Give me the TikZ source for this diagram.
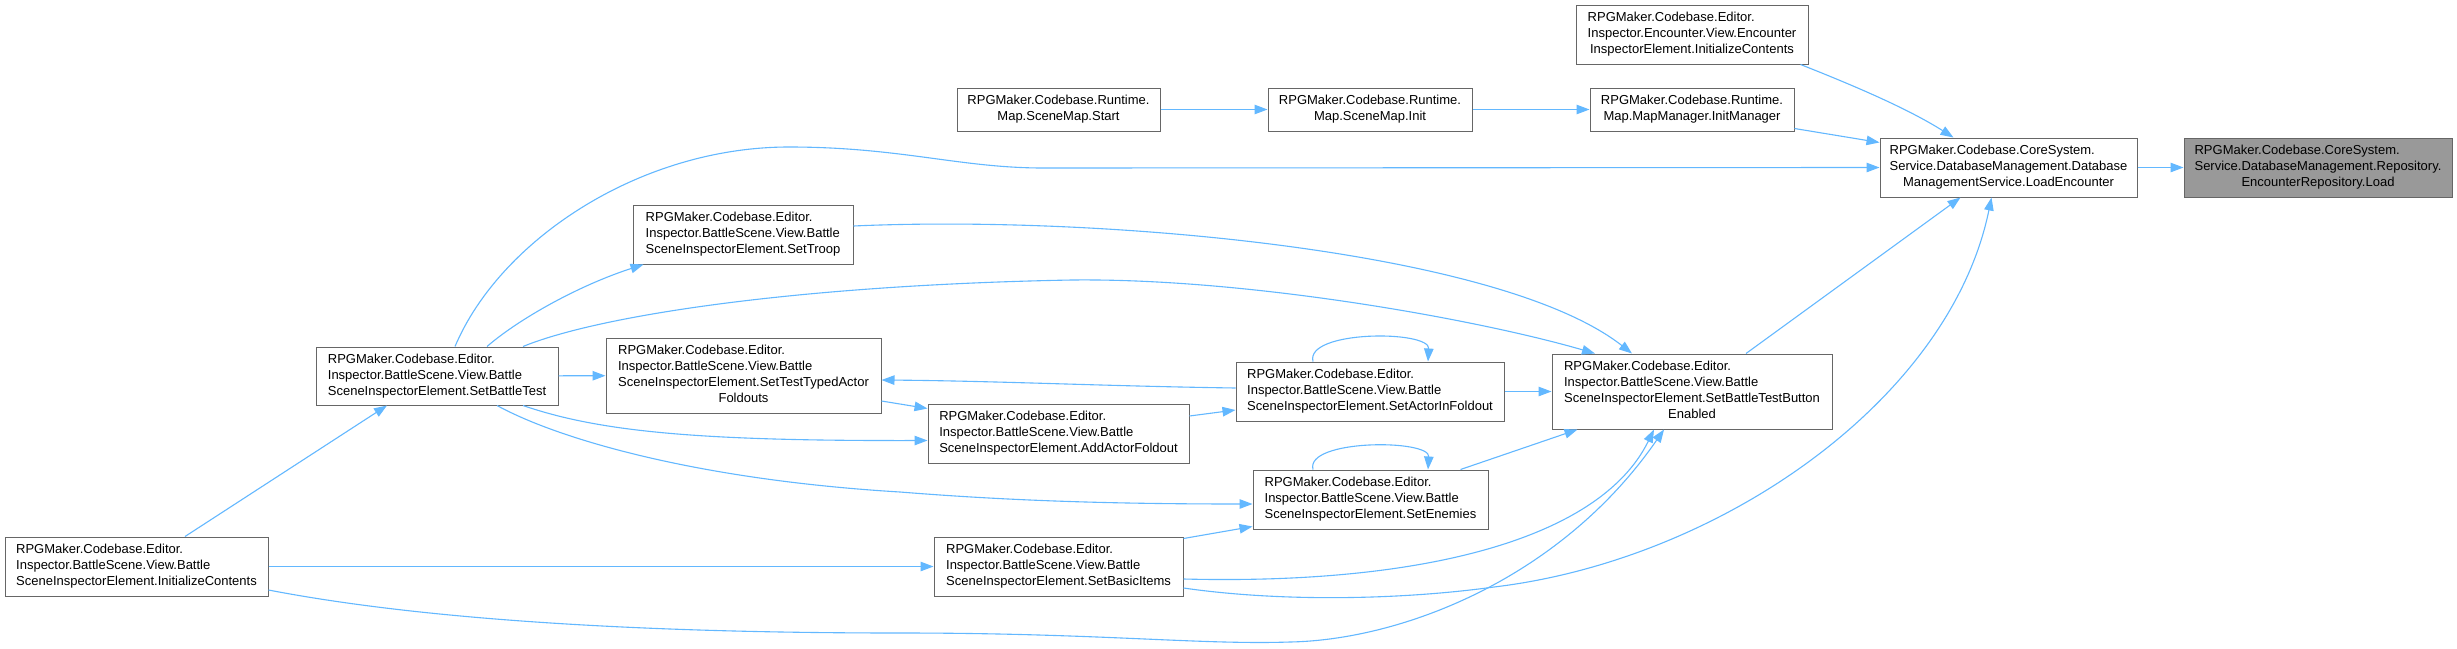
\documentclass[tikz,border=0pt]{standalone}
\usepackage{fontspec}
\setmainfont{Liberation Sans}
\usetikzlibrary{arrows.meta,calc}
\definecolor{edgeblue}{HTML}{63B8FF}
\definecolor{boxline}{HTML}{666666}
\definecolor{focusfill}{HTML}{999999}
\newcommand\lbl[2]{\begin{tabular}{@{}l@{}}#1\\\multicolumn{1}{@{}c@{}}{#2}\end{tabular}}
\newcommand\lblone[1]{\begin{tabular}{@{}c@{}}#1\end{tabular}}
\begin{document}
\begin{tikzpicture}[x=1pt,y=-1pt,
  box/.style={draw=boxline,line width=1pt,fill=white,rectangle,inner sep=0pt,
    font=\fontsize{13pt}{16pt}\selectfont},
  focus/.style={box,fill=focusfill},
  e/.style={draw=edgeblue,line width=1.1pt,-{Triangle[length=13pt,width=9.5pt]}}]
\useasboundingbox (0,0) rectangle (2457,648);
\fill[white] (0,0) rectangle (2457,648);
% nodes
\node[focus,minimum width=268pt,minimum height=59pt] (A) at (2318,167.5)
  {\lbl{RPGMaker.Codebase.CoreSystem.\\Service.DatabaseManagement.Repository.}{EncounterRepository.Load}};
\node[box,minimum width=257pt,minimum height=59pt] (B) at (2008.5,167.5)
  {\lbl{RPGMaker.Codebase.CoreSystem.\\Service.DatabaseManagement.Database}{ManagementService.LoadEncounter}};
\node[box,minimum width=232pt,minimum height=59pt] (C) at (1692,34.5)
  {\lbl{RPGMaker.Codebase.Editor.\\Inspector.Encounter.View.Encounter}{InspectorElement.InitializeContents}};
\node[box,minimum width=203pt,minimum height=43pt] (D) at (1058.5,109.5)
  {\lbl{RPGMaker.Codebase.Runtime.}{Map.SceneMap.Start}};
\node[box,minimum width=204pt,minimum height=43pt] (E) at (1370,109.5)
  {\lbl{RPGMaker.Codebase.Runtime.}{Map.SceneMap.Init}};
\node[box,minimum width=204pt,minimum height=43pt] (F) at (1692,109.5)
  {\lbl{RPGMaker.Codebase.Runtime.}{Map.MapManager.InitManager}};
\node[box,minimum width=220pt,minimum height=59pt] (G) at (743,234.5)
  {\lbl{RPGMaker.Codebase.Editor.\\Inspector.BattleScene.View.Battle}{SceneInspectorElement.SetTroop}};
\node[box,minimum width=242pt,minimum height=58pt] (H) at (437,376)
  {\lbl{RPGMaker.Codebase.Editor.\\Inspector.BattleScene.View.Battle}{SceneInspectorElement.SetBattleTest}};
\node[box,minimum width=263pt,minimum height=59pt] (I) at (136.5,566.5)
  {\lbl{RPGMaker.Codebase.Editor.\\Inspector.BattleScene.View.Battle}{SceneInspectorElement.InitializeContents}};
\node[box,minimum width=275pt,minimum height=75pt] (J) at (743.5,375.5)
  {\lbl{RPGMaker.Codebase.Editor.\\Inspector.BattleScene.View.Battle\\SceneInspectorElement.SetTestTypedActor}{Foldouts}};
\node[box,minimum width=261pt,minimum height=59pt] (K) at (1058.5,433.5)
  {\lbl{RPGMaker.Codebase.Editor.\\Inspector.BattleScene.View.Battle}{SceneInspectorElement.AddActorFoldout}};
\node[box,minimum width=268pt,minimum height=59pt] (L) at (1370,391.5)
  {\lbl{RPGMaker.Codebase.Editor.\\Inspector.BattleScene.View.Battle}{SceneInspectorElement.SetActorInFoldout}};
\node[box,minimum width=235pt,minimum height=59pt] (M) at (1370.5,499.5)
  {\lbl{RPGMaker.Codebase.Editor.\\Inspector.BattleScene.View.Battle}{SceneInspectorElement.SetEnemies}};
\node[box,minimum width=249pt,minimum height=59pt] (N) at (1058.5,566.5)
  {\lbl{RPGMaker.Codebase.Editor.\\Inspector.BattleScene.View.Battle}{SceneInspectorElement.SetBasicItems}};
\node[box,minimum width=280pt,minimum height=75pt] (O) at (1692,391.5)
  {\lbl{RPGMaker.Codebase.Editor.\\Inspector.BattleScene.View.Battle\\SceneInspectorElement.SetBattleTestButton}{Enabled}};
% edges
\draw[e] (B) -- (A);
\draw[e] ($(C.south east)+(-8,0)$) .. controls (1860,88) and (1910,110) .. ($(B.north)+(-55,0)$);
\draw[e] ($(F.south east)+(0,-3)$) -- ($(B.west)+(0,-25)$);
\draw[e] (D) -- (E);
\draw[e] (E) -- (F);
\draw[e] ($(H.north)+(18,0)$) .. controls (500,240) and (640,147) .. (789,147) .. controls (900,147) and (960,168) .. (1043,168) -- (B.west);
\draw[e] ($(H.north)+(50,0)$) .. controls (520,318) and (580,285) .. ($(G.south west)+(11,0)$);
\draw[e] ($(G.east)+(0,-8.5)$) .. controls (1100,215) and (1500,250) .. ($(O.north)+(-60,0)$);
\draw[e] ($(H.north)+(86,0)$) .. controls (600,315) and (800,285) .. (1072,280) .. controls (1250,278) and (1480,320) .. ($(O.north)+(-97,0)$);
\draw[e] (H) -- (J);
\draw[e] ($(L.west)+(0,-3.5)$) .. controls (1100,386) and (1000,381) .. ($(J.east)+(0,4.5)$);
\draw[e] ($(J.east)+(0,25.5)$) -- ($(K.west)+(0,-25)$);
\draw[e] ($(H.south)+(86,0)$) .. controls (600,432) and (700,441) .. ($(K.west)+(0,7)$);
\draw[e] ($(K.east)+(0,-17.5)$) -- ($(L.west)+(0,18.5)$);
\draw[e] ($(L.north)+(-57,0)$) .. controls (1305,330) and (1430,330) .. ($(L.north)+(58,0)$);
\draw[e] (L) -- (O);
\draw[e] ($(H.south)+(60,0)$) .. controls (560,440) and (700,480) .. (900,492) .. controls (1000,500) and (1100,504) .. ($(M.west)+(0,4.5)$);
\draw[e] ($(M.north)+(-57.5,0)$) .. controls (1305,439) and (1430,439) .. ($(M.north)+(57.5,0)$);
\draw[e] ($(M.north east)+(-28,0)$) -- ($(O.south west)+(26,0)$);
\draw[e] ($(N.north east)+(0,2)$) -- ($(M.south west)+(0,-3)$);
\draw[e] ($(N.east)+(0,12.5)$) .. controls (1420,585) and (1600,540) .. ($(O.south)+(-38,0)$);
\draw[e] ($(O.north)+(54,0)$) -- ($(B.south)+(-48,0)$);
\draw[e] ($(N.east)+(0,21.5)$) .. controls (1280,602) and (1400,600) .. (1494,587) .. controls (1720,560) and (1950,400) .. ($(B.south)+(-17,0)$);
\draw[e] ($(I.north)+(48.5,0)$) -- ($(H.south)+(-50,0)$);
\draw[e] (I) -- (N);
\draw[e] ($(I.east)+(0,23.5)$) .. controls (450,625) and (700,633) .. (900,633) .. controls (1100,633) and (1200,645) .. (1290,642) .. controls (1400,640) and (1560,580) .. ($(O.south)+(-28,0)$);
\end{tikzpicture}
\end{document}
